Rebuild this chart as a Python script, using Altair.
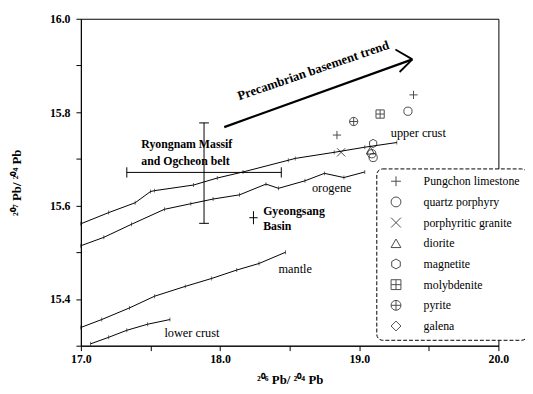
import altair as alt
import pandas as pd

SERIF = "Liberation Serif"

# ---- model curves (206Pb/204Pb, 207Pb/204Pb) ----
upper_x = [17.0, 17.2, 17.39, 17.5, 17.53, 17.81, 17.98, 18.165, 18.49, 18.54, 18.82, 19.04, 19.27]
upper_y = [15.561, 15.585, 15.606, 15.630, 15.632, 15.644, 15.659, 15.672, 15.697, 15.701, 15.714, 15.725, 15.735]
orogene_x = [17.0, 17.165, 17.364, 17.6, 17.79, 17.95, 18.14, 18.33, 18.42, 18.61, 18.75, 18.89, 19.04]
orogene_y = [15.514, 15.532, 15.56, 15.592, 15.604, 15.614, 15.623, 15.646, 15.637, 15.653, 15.669, 15.66, 15.672]
mantle_x = [17.0, 17.15, 17.35, 17.53, 17.75, 17.94, 18.12, 18.28, 18.47]
mantle_y = [15.339, 15.356, 15.381, 15.406, 15.427, 15.444, 15.462, 15.476, 15.500]
lower_x = [17.07, 17.2, 17.33, 17.48, 17.64]
lower_y = [15.304, 15.318, 15.333, 15.346, 15.356]

curve_rows = []
for name, xs, ys in [("upper crust", upper_x, upper_y), ("orogene", orogene_x, orogene_y),
                     ("mantle", mantle_x, mantle_y), ("lower crust", lower_x, lower_y)]:
    for i, (a, b) in enumerate(zip(xs, ys)):
        curve_rows.append({"curve": name, "i": i, "x": a, "y": b})
curves = pd.DataFrame(curve_rows)

# ---- samples ----
categories = ["Pungchon limestone", "quartz porphyry", "porphyritic granite", "diorite",
              "magnetite", "molybdenite", "pyrite", "galena"]
sample_type = ["Pungchon limestone", "Pungchon limestone", "quartz porphyry", "quartz porphyry",
               "quartz porphyry", "porphyritic granite", "diorite", "magnetite", "molybdenite", "pyrite"]
sample_x = [18.84, 19.39, 19.35, 19.09, 19.10, 18.87, 19.08, 19.10, 19.15, 18.96]
sample_y = [15.751, 15.837, 15.802, 15.711, 15.703, 15.714, 15.718, 15.733, 15.796, 15.780]
samples = pd.DataFrame({"type": sample_type, "x": sample_x, "y": sample_y})

shapes = [
    "M-1,0L1,0M0,-1L0,1",
    "circle",
    "M-1,-1L1,1M-1,1L1,-1",
    "triangle-up",
    "M0,-1L0.87,-0.5L0.87,0.5L0,1L-0.87,0.5L-0.87,-0.5Z",
    "M-1,-1L1,-1L1,1L-1,1ZM-1,0L1,0M0,-1L0,1",
    "M-1,0A1,1 0 1,1 1,0A1,1 0 1,1 -1,0ZM-1,0L1,0M0,-1L0,1",
    "diamond",
]

# ---- error crosses: name, center x, center y, x-, x+, y-, y+ ----
err_name = ["Ryongnam", "Gyeongsang"]
err_cx = [17.885, 18.24]
err_cy = [15.671, 15.574]
err_x0 = [17.33, 18.21]
err_x1 = [18.44, 18.27]
err_y0 = [15.562, 15.560]
err_y1 = [15.777, 15.588]
err = pd.DataFrame({"name": err_name, "cx": err_cx, "cy": err_cy,
                    "x0": err_x0, "x1": err_x1, "y0": err_y0, "y1": err_y1})
ry = err.iloc[:1]

# ---- arrow ----
arrow = pd.DataFrame({"x": [18.03], "y": [15.768], "x2": [19.382], "y2": [15.913]})
arrow_head = pd.DataFrame({"x": [19.26, 19.29], "y": [15.934, 15.886],
                           "x2": [19.382, 19.382], "y2": [15.913, 15.913]})

# ---- labels ----
lab_text = ["Ryongnam Massif", "and Ogcheon belt", "Gyeongsang", "Basin"]
lab_x = [17.434, 17.434, 18.31, 18.31]
lab_y = [15.731, 15.695, 15.589, 15.556]
bold_labels = pd.DataFrame({"t": lab_text, "x": lab_x, "y": lab_y})

curve_lab_text = ["upper crust", "orogene", "mantle", "lower crust"]
curve_lab_x = [19.227, 18.66, 18.42, 17.60]
curve_lab_y = [15.756, 15.638, 15.465, 15.326]
curve_labels = pd.DataFrame({"t": curve_lab_text, "x": curve_lab_x, "y": curve_lab_y})

trend = pd.DataFrame({"t": ["Precambrian basement trend"], "x": [18.67], "y": [15.889]})

xs = alt.Scale(domain=[17, 20], nice=False, zero=False)
ys = alt.Scale(domain=[15.3, 16.0], nice=False, zero=False)

X = alt.X("x:Q", scale=xs, title="²⁰⁶ Pb/ ²⁰⁴ Pb",
          axis=alt.Axis(values=[17, 17.5, 18, 18.5, 19, 19.5, 20],
                        labelExpr="datum.value % 1 == 0 ? format(datum.value, '.1f') : ''",
                        titlePadding=9, labelFlush=False))
Y = alt.Y("y:Q", scale=ys, title="²⁰⁷ Pb/ ²⁰⁴ Pb",
          axis=alt.Axis(values=[15.3, 15.4, 15.5, 15.6, 15.7, 15.8, 15.9, 16.0],
                        labelExpr="round(datum.value*10) % 2 == 0 ? format(datum.value, '.1f') : ''",
                        titlePadding=26, labelFlush=False))

lines = alt.Chart(curves).mark_line(color="black", strokeWidth=1).encode(
    x=X, y=Y, detail="curve:N", order="i:Q")
ticks = alt.Chart(curves).mark_tick(color="black", orient="vertical", size=4, thickness=0.8).encode(
    x="x:Q", y="y:Q")

pts = alt.Chart(samples).mark_point(filled=False, color="black", size=70, strokeWidth=1).encode(
    x="x:Q", y="y:Q",
    shape=alt.Shape("type:N", scale=alt.Scale(domain=categories, range=shapes),
                    legend=alt.Legend(title=None, orient="none", legendX=300, legendY=152,
                                      padding=7, symbolOffset=7, labelOffset=22,
                                      rowPadding=7, symbolSize=100, symbolStrokeWidth=1,
                                      symbolStrokeColor="black", symbolFillColor="transparent",
                                      labelFont=SERIF, labelFontSize=12, labelColor="black",
                                      strokeColor="black", cornerRadius=6,
                                      fillColor="white", labelLimit=200)))

hbar = alt.Chart(err).mark_rule(color="black", strokeWidth=1).encode(x="x0:Q", x2="x1:Q", y="cy:Q")
vbar = alt.Chart(err).mark_rule(color="black", strokeWidth=1).encode(x="cx:Q", y="y0:Q", y2="y1:Q")
hcap = alt.Chart(ry).transform_fold(["x0", "x1"], as_=["k", "ex"]).transform_calculate(
    ya="datum.cy - 0.011", yb="datum.cy + 0.011").mark_rule(color="black").encode(
    x="ex:Q", y="ya:Q", y2="yb:Q")
vcap = alt.Chart(ry).transform_fold(["y0", "y1"], as_=["k", "ey"]).transform_calculate(
    xa="datum.cx - 0.035", xb="datum.cx + 0.035").mark_rule(color="black").encode(
    x="xa:Q", x2="xb:Q", y="ey:Q")

arr = alt.Chart(arrow).mark_rule(color="black", strokeWidth=2.2).encode(
    x="x:Q", y="y:Q", x2="x2:Q", y2="y2:Q")
arrh = alt.Chart(arrow_head).mark_rule(color="black", strokeWidth=1.8).encode(
    x="x:Q", y="y:Q", x2="x2:Q", y2="y2:Q")

btxt = alt.Chart(bold_labels).mark_text(font=SERIF, fontSize=12, fontWeight="bold",
                                        align="left", baseline="middle", color="black").encode(
    x="x:Q", y="y:Q", text="t:N")
ctxt = alt.Chart(curve_labels).mark_text(font=SERIF, fontSize=12.5, align="left",
                                         baseline="middle", color="black").encode(
    x="x:Q", y="y:Q", text="t:N")
ttxt = alt.Chart(trend).mark_text(font=SERIF, fontSize=13, fontWeight="bold", angle=341,
                                  align="center", baseline="middle", color="black").encode(
    x="x:Q", y="y:Q", text="t:N")

chart = alt.layer(lines, ticks, hbar, vbar, hcap, vcap, arr, arrh, btxt, ctxt, ttxt, pts).properties(
    width=424, height=332,
    autosize=alt.AutoSizeParams(type="none"),
    padding={"left": 74, "top": 8, "right": 27, "bottom": 38},
    background="white",
).configure(font=SERIF).configure_view(stroke="black", strokeWidth=1).configure_axis(
    labelFont=SERIF, labelFontSize=12, labelFontWeight="bold", labelColor="black",
    titleFont=SERIF, titleFontSize=13, titleFontWeight="bold", titleColor="black",
    domainColor="black", tickColor="black", tickSize=5, grid=False, labelPadding=3,
).configure_axisY(labelPadding=6).configure_legend(strokeDash=[4, 2], labelFont=SERIF)

chart.save("out.html", embed_options={"renderer": "svg", "actions": False})
